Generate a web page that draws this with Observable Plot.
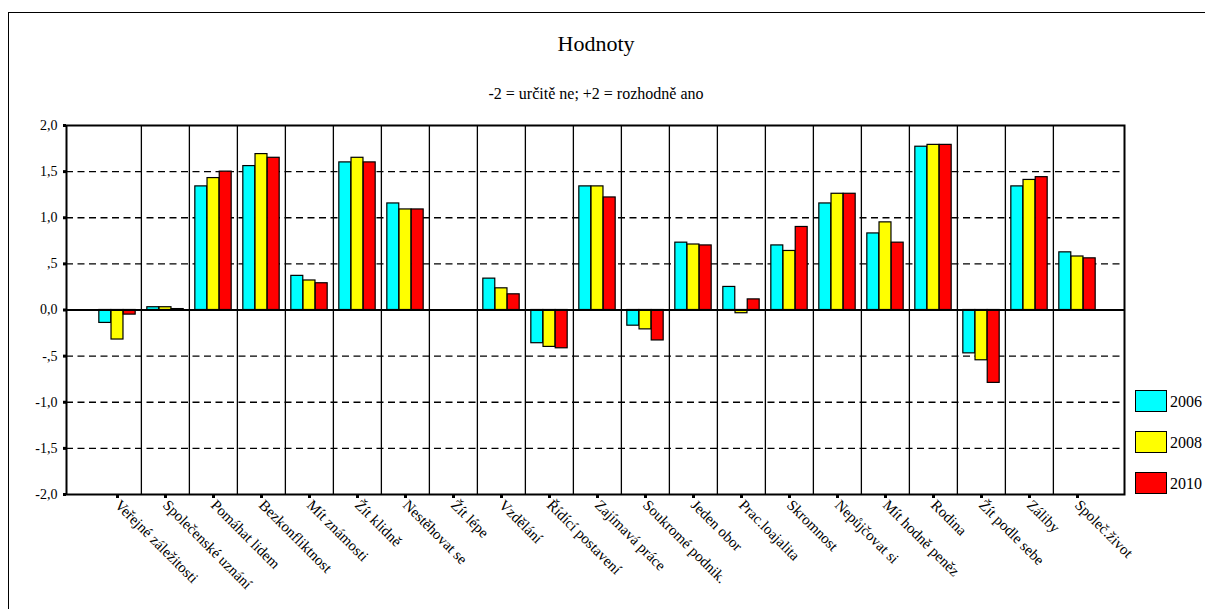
<!DOCTYPE html>
<html><head><meta charset="utf-8">
<script src="https://cdn.jsdelivr.net/npm/d3@7"></script>
<script src="https://cdn.jsdelivr.net/npm/@observablehq/plot@0.6"></script>
<style>
body{margin:0;background:#fff;font-family:"Liberation Serif","Times New Roman",Times,"DejaVu Serif",serif;color:#000;}
#wrap{position:relative;width:1205px;height:609px;overflow:hidden;background:#fff;}
#border{position:absolute;left:8px;top:12px;width:1400px;height:800px;border:1.5px solid #000;}
#chart{position:absolute;left:0;top:0;}
#title{position:absolute;left:0;width:1192px;top:31px;text-align:center;font-size:22px;}
#subtitle{position:absolute;left:0;width:1192px;top:85px;text-align:center;font-size:16px;}
#legend{position:absolute;left:1135px;top:390px;}
.item{position:relative;height:41px;}
.sw{position:absolute;left:0;top:0;width:30px;height:20px;border:1.5px solid #000;}
.lab{position:absolute;left:35px;top:3px;font-size:16px;}
</style></head>
<body>
<div id="wrap">
  <div id="border"></div>
  <div id="chart"></div>
  <div id="title">Hodnoty</div>
  <div id="subtitle">-2 = určitě ne; +2 = rozhodně ano</div>
  <div id="legend"></div>
</div>
<script>
const categories = ["Veřejné záležitosti","Společenské uznání","Pomáhat lidem","Bezkonfliktnost","Mít známosti","Žít klidně","Nestěhovat se","Žít lépe","Vzdělání","Řídící postavení","Zajímavá práce","Soukromé podnik.","Jeden obor","Prac.loajalita","Skromnost","Nepůjčovat si","Mít hodně peněz","Rodina","Žít podle sebe","Záliby","Společ.život"];
const years = ["2006","2008","2010"];
const v2006 = [-0.14, 0.03, 1.34, 1.56, 0.37, 1.60, 1.155, null, 0.34, -0.36, 1.34, -0.17, 0.73, 0.25, 0.70, 1.155, 0.83, 1.77, -0.47, 1.34, 0.625];
const v2008 = [-0.32, 0.03, 1.43, 1.69, 0.32, 1.65, 1.09, null, 0.235, -0.40, 1.34, -0.21, 0.71, -0.035, 0.64, 1.26, 0.95, 1.79, -0.545, 1.41, 0.58];
const v2010 = [-0.05, 0.01, 1.50, 1.65, 0.29, 1.60, 1.09, null, 0.17, -0.415, 1.22, -0.33, 0.70, 0.115, 0.90, 1.26, 0.73, 1.79, -0.79, 1.44, 0.56];
const colors = ["#00ffff","#ffff00","#ff0000"];
const yTicks = [2, 1.5, 1, 0.5, 0, -0.5, -1, -1.5, -2];
const yTickLabels = ["2,0","1,5","1,0",",5","0,0","-,5","-1,0","-1,5","-2,0"];
const gridValues = [1.5, 1, 0.5, -0.5, -1, -1.5];

const series = [v2006, v2008, v2010];
const rows = categories.flatMap((c, i) => years.map((y, j) => ({category: c, year: y, value: series[j][i]})));

const W = 1205, H = 609;
const mL = 66, mR = 81, mT = 125, mB = 115;
const pOuter = 0.464, align = 0.54;
const step = (W - mL - mR) / (categories.length + 2 * pOuter);
const barW = 12.2;
const groupOff = (step - 3 * barW) / 2;
const fontStack = "'Liberation Serif','Times New Roman',Times,'DejaVu Serif',serif";

const marks = [
  Plot.ruleY(gridValues, {stroke: "#000", strokeWidth: 1.3, strokeDasharray: "7,4.5"}),
  Plot.ruleX(categories.slice(1), {stroke: "#000", strokeWidth: 1.3, dx: -step / 2})
];
years.forEach((y, j) => {
  const left = groupOff + j * barW;
  marks.push(Plot.barY(rows.filter(d => d.year === y && d.value != null), {
    x: "category", y: "value", fill: "year", stroke: "#000", strokeWidth: 1.2,
    insetLeft: left, insetRight: step - left - barW
  }));
});
marks.push(
  Plot.ruleY([0], {stroke: "#000", strokeWidth: 2.2}),
  Plot.frame({stroke: "#000", strokeWidth: 2}),
  Plot.axisY({ticks: yTicks, tickFormat: d => yTickLabels[yTicks.indexOf(d)], tickSize: 3, tickPadding: 6, fontSize: 14, strokeWidth: 3, label: null}),
  Plot.axisX({tickSize: 4, strokeWidth: 3, tickRotate: 45, tickPadding: 4, fontSize: 15, label: null})
);

const chart = Plot.plot({
  width: W, height: H,
  marginLeft: mL, marginRight: mR, marginTop: mT, marginBottom: mB,
  style: {fontFamily: fontStack, background: "transparent", color: "#000"},
  x: {type: "band", domain: categories, paddingInner: 0, paddingOuter: pOuter, align: align, label: null},
  y: {domain: [-2, 2], label: null},
  color: {domain: years, range: colors},
  marks
});
document.getElementById("chart").appendChild(chart);

const lg = document.getElementById("legend");
years.forEach((y, j) => {
  const it = document.createElement("div");
  it.className = "item";
  it.innerHTML = `<div class="sw" style="background:${colors[j]}"></div><div class="lab">${y}</div>`;
  lg.appendChild(it);
});
</script>
</body></html>
